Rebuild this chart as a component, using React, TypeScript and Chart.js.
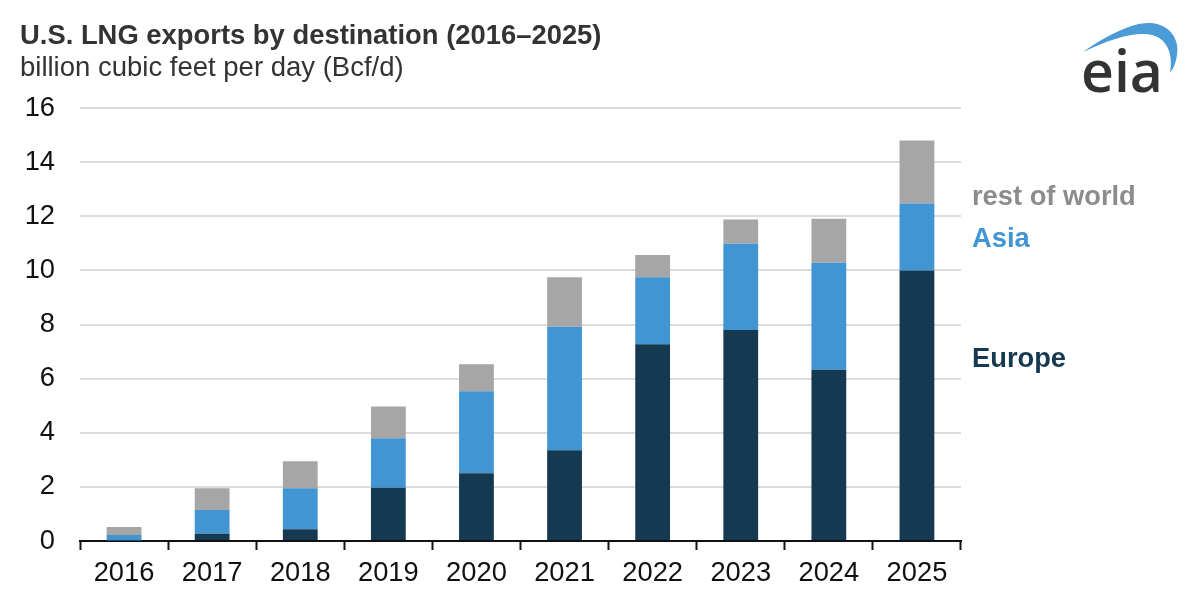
import { useEffect, useRef } from 'react'
import { Chart, registerables } from 'chart.js'

Chart.register(...registerables)

const YEARS = ['2016', '2017', '2018', '2019', '2020', '2021', '2022', '2023', '2024', '2025']
const EUROPE = [0.02, 0.27, 0.43, 1.97, 2.5, 3.35, 7.27, 7.8, 6.33, 10]
const ASIA = [0.2, 0.88, 1.52, 1.83, 3.03, 4.57, 2.48, 3.18, 3.95, 2.47]
const REST = [0.3, 0.8, 1.0, 1.17, 1.0, 1.83, 0.82, 0.9, 1.63, 2.33]

const FONT = '"Liberation Sans", Arial, sans-serif'

const labelStyle = (top: number, color: string): React.CSSProperties => ({
  position: 'absolute',
  left: 972,
  top,
  lineHeight: '30px',
  fontSize: 27.3,
  fontWeight: 700,
  color,
  whiteSpace: 'nowrap',
})

export default function App() {
  const canvasRef = useRef<HTMLCanvasElement>(null)

  useEffect(() => {
    if (!canvasRef.current) return
    const chart = new Chart(canvasRef.current, {
      type: 'bar',
      data: {
        labels: YEARS,
        datasets: [
          { label: 'Europe', data: EUROPE, backgroundColor: '#143951' },
          { label: 'Asia', data: ASIA, backgroundColor: '#4195d3' },
          { label: 'rest of world', data: REST, backgroundColor: '#a6a6a6' },
        ],
      },
      options: {
        responsive: false,
        animation: false,
        layout: { padding: { top: 108, right: 239, bottom: 0, left: 0 } },
        datasets: { bar: { categoryPercentage: 1, barPercentage: 0.395 } },
        plugins: { legend: { display: false }, tooltip: { enabled: false } },
        scales: {
          x: {
            stacked: true,
            afterFit: (scale) => { scale.height = 63 },
            border: { color: '#111111', width: 2 },
            grid: {
              offset: true,
              drawOnChartArea: false,
              drawTicks: true,
              tickLength: 9,
              tickWidth: 2,
              tickColor: '#111111',
            },
            ticks: {
              color: '#111111',
              font: { family: FONT, size: 27.3 },
              padding: 7,
              maxRotation: 0,
              autoSkip: false,
            },
          },
          y: {
            stacked: true,
            min: 0,
            max: 16,
            afterFit: (scale) => { scale.width = 80 },
            border: { display: false },
            grid: { color: '#dcdcdc', lineWidth: 2, drawTicks: false },
            ticks: {
              stepSize: 2,
              color: '#111111',
              font: { family: FONT, size: 27.3 },
              padding: 25,
            },
          },
        },
      },
    })
    return () => { chart.destroy() }
  }, [])

  return (
    <div style={{ position: 'absolute', left: 0, top: 0, width: 1200, height: 604, background: '#fff', fontFamily: FONT, overflow: 'hidden' }}>
      <canvas ref={canvasRef} width={1200} height={604} style={{ display: 'block' }} />
      <div style={{ position: 'absolute', left: 20, top: 20, fontSize: 27.4, lineHeight: '30px', fontWeight: 700, color: '#333333', whiteSpace: 'nowrap' }}>
        U.S. LNG exports by destination (2016–2025)
      </div>
      <div style={{ position: 'absolute', left: 20, top: 52, fontSize: 27.5, lineHeight: '30px', color: '#333333', whiteSpace: 'nowrap' }}>
        billion cubic feet per day (Bcf/d)
      </div>
      <div style={labelStyle(181, '#8c8c8c')}>rest of world</div>
      <div style={labelStyle(223, '#4195d3')}>Asia</div>
      <div style={labelStyle(343, '#143951')}>Europe</div>
      <svg style={{ position: 'absolute', left: 1070, top: 10 }} width={120} height={90} viewBox="1070 10 120 90">
        <path d="M1083 52 C1110 33 1135 22 1150 23 C1170 24 1180 40 1177 55 C1176 62 1174 68 1170 73 C1173 55 1168 41 1155 36 C1140 30 1112 38 1083 52 Z" fill="#4a9bd6" />
        <text x={1081} y={92} fontFamily='"Open Sans", sans-serif' fontWeight={600} fontSize={58} fill="#333333" textLength={82} lengthAdjust="spacingAndGlyphs">eia</text>
      </svg>
    </div>
  )
}
